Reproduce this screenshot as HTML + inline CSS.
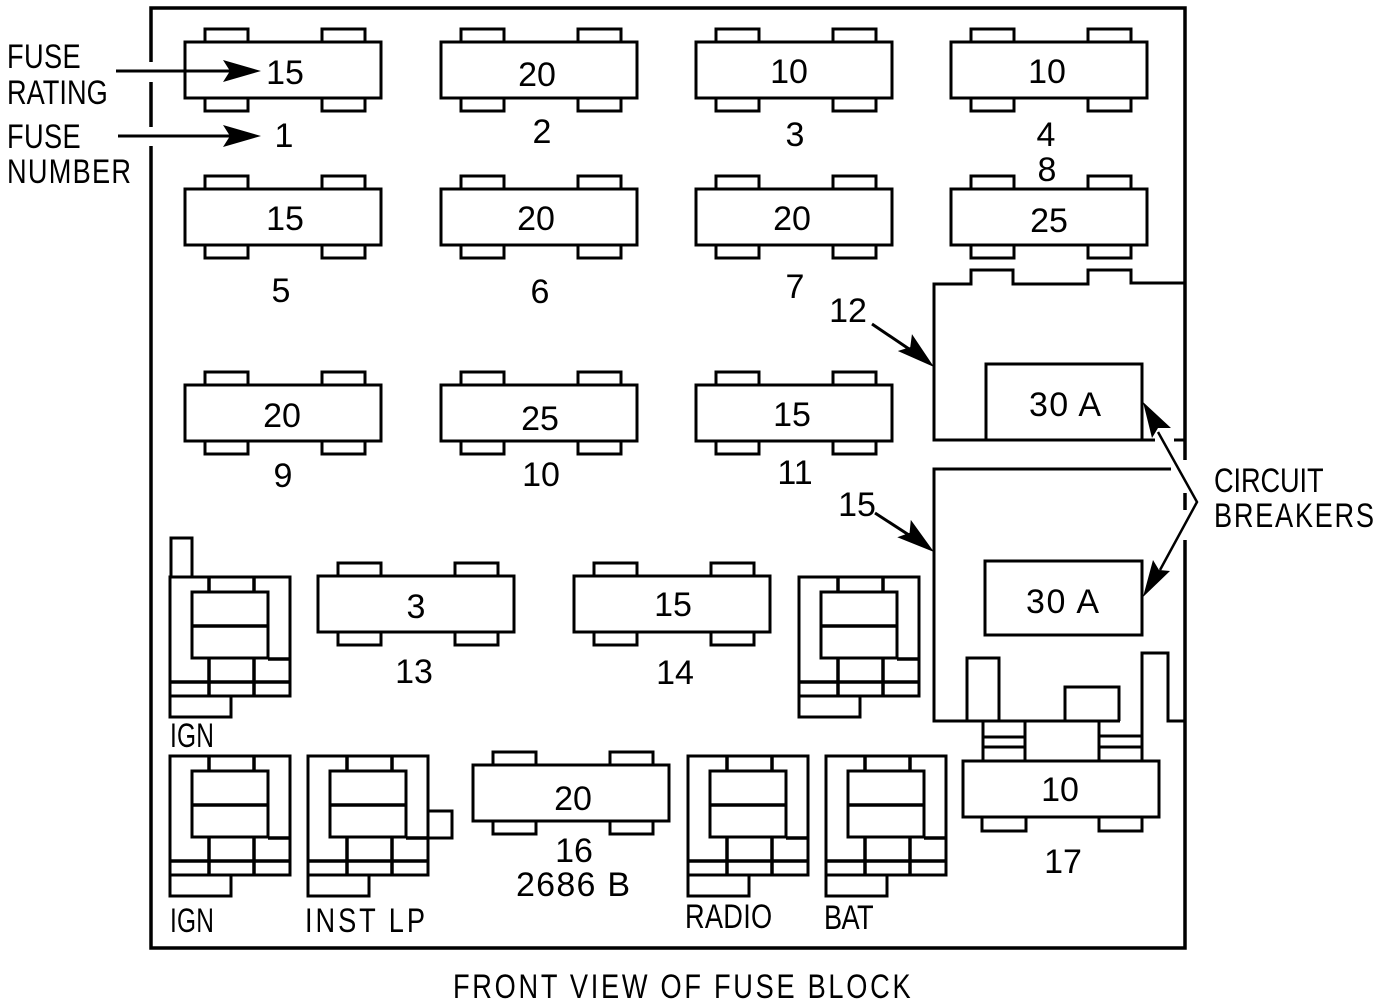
<!DOCTYPE html>
<html><head><meta charset="utf-8"><style>
html,body{margin:0;padding:0;background:#fff}
svg{display:block}
text{font-family:"Liberation Sans",sans-serif;font-size:34px;fill:#000;text-anchor:middle}
.l{text-anchor:start}
.k{fill:none;stroke:#000;stroke-width:3}
.t{fill:none;stroke:#000;stroke-width:2.5}
</style></head><body>
<svg width="1392" height="1006" viewBox="0 0 1392 1006" xmlns="http://www.w3.org/2000/svg">
<defs>
<g id="f" class="k">
<rect x="0" y="0" width="196" height="56" fill="#fff"/>
<path d="M20 0V-13H63V0M137 0V-13H180V0M20 56V69H63V56M137 56V69H180V56"/>
</g>
<g id="r" class="k">
<rect x="0" y="0" width="120" height="119"/>
<rect x="22" y="15" width="76" height="66" fill="#fff"/>
<path d="M22 49H98M39 0V15M84 0V15M39 81V119M84 81V119M0 105H120M98 82H120" stroke-width="3.5"/>
<path d="M0 119V140H61V119"/>
</g>
<path id="ah" d="M0 0L-38 -11L-31 0L-38 11Z" fill="#000"/>
</defs>

<g class="k" stroke-width="3">
<path d="M151 62V8H1185V460M1185 493V510M1185 540V948H151V146M151 127V82" style="stroke-width:3.5"/>
</g>

<use href="#f" x="185" y="42"/><use href="#f" x="441" y="42"/><use href="#f" x="696" y="42"/><use href="#f" x="951" y="42"/>
<use href="#f" x="185" y="189"/><use href="#f" x="441" y="189"/><use href="#f" x="696" y="189"/><use href="#f" x="951" y="189"/>
<use href="#f" x="185" y="385"/><use href="#f" x="441" y="385"/><use href="#f" x="696" y="385"/>
<use href="#f" x="318" y="576"/><use href="#f" x="574" y="576"/>
<use href="#f" x="473" y="765"/>

<use href="#r" x="170" y="577"/><use href="#r" x="799" y="577"/>
<use href="#r" x="170" y="756"/><use href="#r" x="308" y="756"/><use href="#r" x="688" y="756"/><use href="#r" x="826" y="756"/>
<g class="k">
<path d="M171 577V538H192V577"/>
<path d="M428 811H452V838H428"/>
<!-- CB 12 -->
<path d="M1155 440H934V284H971V270H1013V284H1088V270H1131V283H1185"/>
<path d="M1174 440H1185"/>
<rect x="986" y="364" width="156" height="76"/>
<!-- CB 15 -->
<path d="M1171 469H934V721H1120"/>
<rect x="985" y="561" width="157" height="74"/>
<path d="M967 721V658H999V721M1065 721V687H1119V721"/>
<path d="M1142 761V653H1168V721H1185"/>
<!-- Fuse 17 -->
<path d="M983 721V761M1025 721V761M1099 721V761M983 737H1025M983 747H1025M1099 736H1142M1099 747H1142"/>
<rect x="963" y="761" width="196" height="56" fill="#fff"/>
<path d="M982 817V831H1026V817M1099 817V831H1142V817"/>
</g>

<!-- Arrows -->
<path class="k" d="M116 71H232M118 136H232M872 324L912 351M875 513L912 537"/>
<use href="#ah" transform="translate(261 71)"/>
<use href="#ah" transform="translate(261 136)"/>
<use href="#ah" transform="translate(934 367) rotate(40)"/>
<use href="#ah" transform="translate(934 552) rotate(38)"/>
<path class="t" d="M1158 432L1197 502L1160 570"/>
<path d="M1143 402L1171 428L1158 428L1152 438Z" fill="#000"/>
<path d="M1143 597L1170 571L1159 570L1153 560Z" fill="#000"/>

<!-- Labels -->
<text class="l" transform="translate(7 68) scale(.8 1)" textLength="92" lengthAdjust="spacing">FUSE</text>
<text class="l" transform="translate(7 104) scale(.8 1)" textLength="126" lengthAdjust="spacing">RATING</text>
<text class="l" transform="translate(7 148) scale(.8 1)" textLength="92" lengthAdjust="spacing">FUSE</text>
<text class="l" transform="translate(7 183) scale(.8 1)" textLength="155" lengthAdjust="spacing">NUMBER</text>

<text x="285" y="84">15</text><text x="537" y="86">20</text><text x="789" y="83">10</text><text x="1047" y="83">10</text>
<text x="284" y="147">1</text><text x="542" y="143">2</text><text x="795" y="146">3</text><text x="1046" y="146">4</text><text x="1047" y="181">8</text>
<text x="285" y="230">15</text><text x="536" y="230">20</text><text x="792" y="230">20</text><text x="1049" y="232">25</text>
<text x="281" y="302">5</text><text x="540" y="303">6</text><text x="795" y="298">7</text><text x="848" y="322">12</text>
<text x="282" y="427">20</text><text x="540" y="430">25</text><text x="792" y="426">15</text>
<text x="283" y="487">9</text><text x="541" y="486">10</text><text x="795" y="484">11</text>
<text class="l" x="1029" y="416" textLength="72" lengthAdjust="spacing">30 A</text>
<text x="857" y="516">15</text>
<text class="l" transform="translate(1214 492) scale(.8 1)" textLength="137" lengthAdjust="spacing">CIRCUIT</text>
<text class="l" transform="translate(1214 527) scale(.8 1)" textLength="200" lengthAdjust="spacing">BREAKERS</text>
<text x="416" y="618">3</text><text x="673" y="616">15</text>
<text x="414" y="683">13</text><text x="675" y="684">14</text>
<text class="l" x="1026" y="613" textLength="73" lengthAdjust="spacing">30 A</text>
<text class="l" transform="translate(170 747) scale(.72 1)" textLength="61" lengthAdjust="spacing">IGN</text>
<text class="l" transform="translate(170 932) scale(.72 1)" textLength="61" lengthAdjust="spacing">IGN</text>
<text class="l" transform="translate(305 932) scale(.8 1)" textLength="150" lengthAdjust="spacing">INST LP</text>
<text x="573" y="810">20</text><text x="1060" y="801">10</text>
<text x="574" y="862">16</text>
<text class="l" x="516" y="896" textLength="114" lengthAdjust="spacing">2686 B</text>
<text x="1063" y="873">17</text>
<text class="l" transform="translate(685 928) scale(.8 1)" textLength="109" lengthAdjust="spacing">RADIO</text>
<text class="l" transform="translate(824 929) scale(.8 1)" textLength="62" lengthAdjust="spacing">BAT</text>
<text class="l" transform="translate(453 998) scale(.8 1)" textLength="572" lengthAdjust="spacing">FRONT VIEW OF FUSE BLOCK</text>
</svg>
</body></html>
